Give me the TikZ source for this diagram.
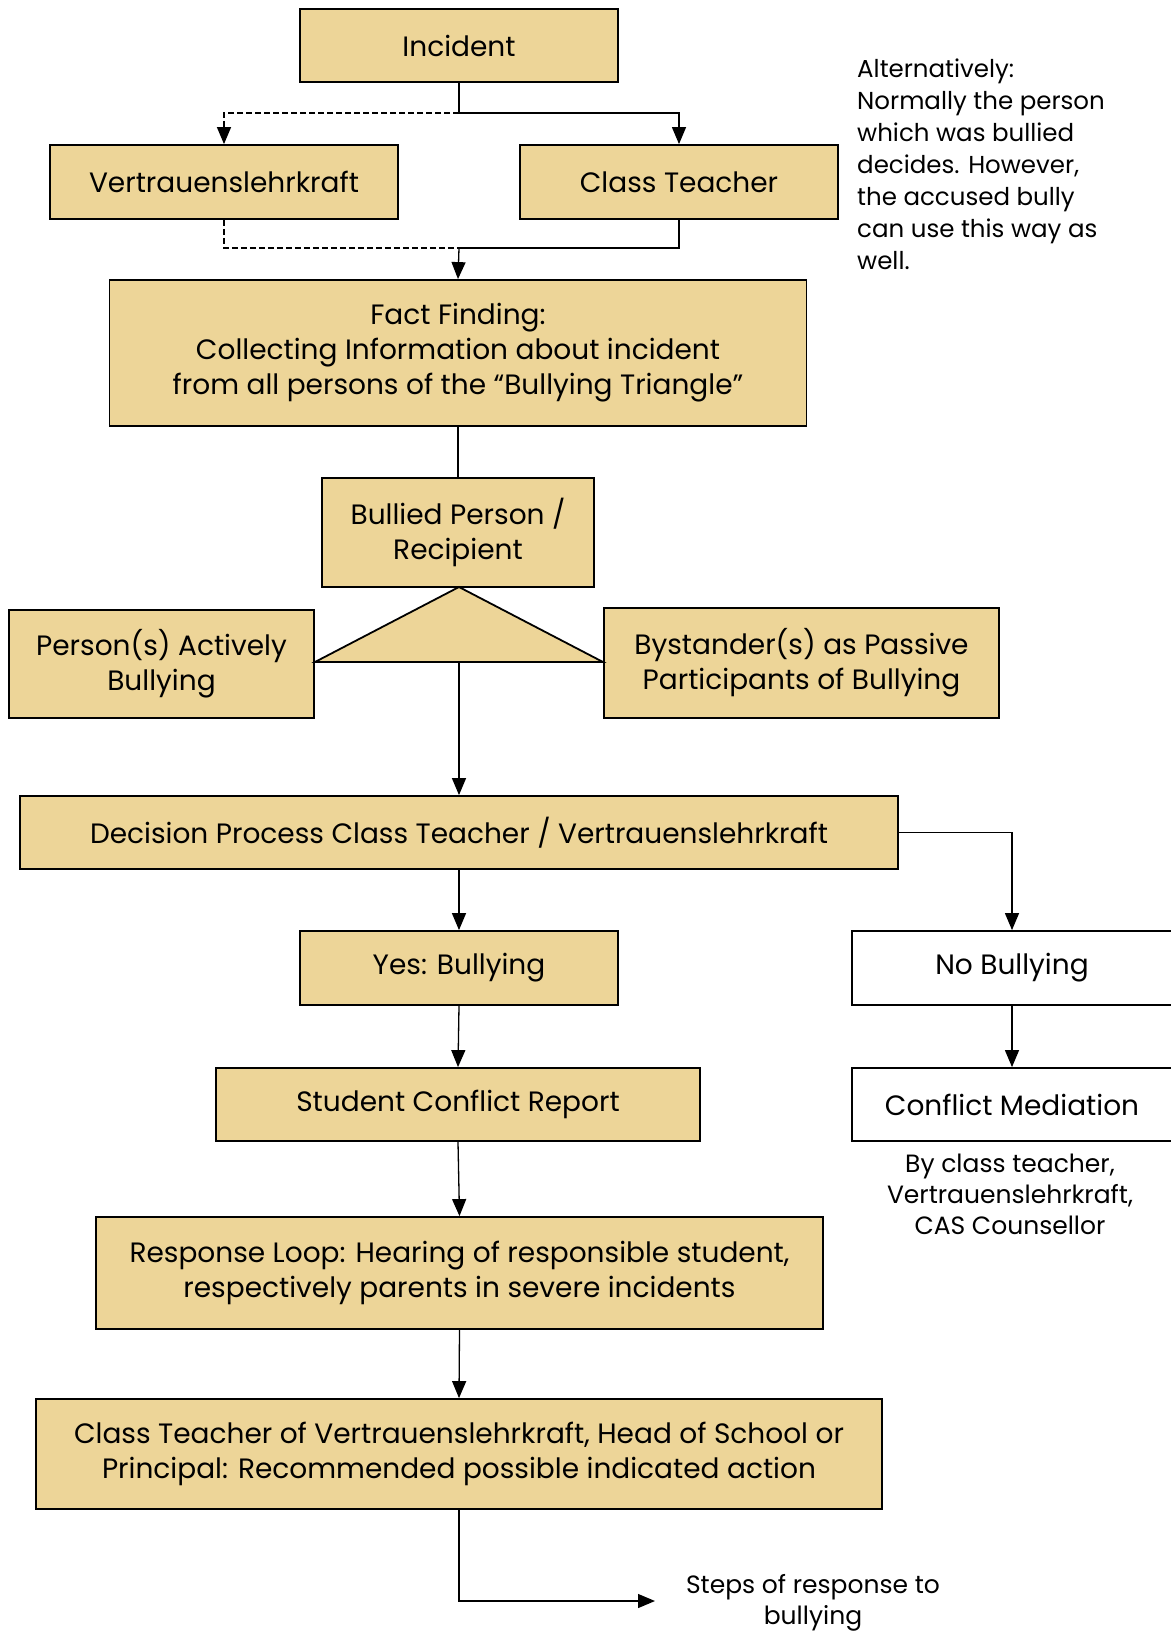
\documentclass[tikz,border=0pt]{standalone}
\usepackage{fontspec}
\setmainfont{Poppins}
\usetikzlibrary{arrows.meta}
\definecolor{boxfill}{RGB}{237,213,152}
\tikzset{
  fbox/.style={draw=black, line width=1.8pt, fill=boxfill, rectangle, inner sep=0pt, align=center,
    font=\fontsize{28}{35}\selectfont},
  wbox/.style={fbox, fill=white},
  conn/.style={line width=1.3pt},
  arr/.style={conn, -{Triangle[width=14pt,length=17pt]}},
  dconn/.style={conn, dash pattern=on 6pt off 3pt},
  note/.style={align=left, inner sep=0pt, font=\fontsize{24.5}{32}\selectfont},
  cnote/.style={align=center, inner sep=0pt, font=\fontsize{25}{31}\selectfont}
}
\begin{document}
\begin{tikzpicture}[x=1pt,y=-1pt]
\useasboundingbox (0,0) rectangle (1170,1635);
\node[fbox, minimum width=318pt, minimum height=73pt] (inc) at (459,45.5) {Incident};
\node[fbox, minimum width=348pt, minimum height=74pt] (vl) at (224,182) {Vertrauenslehrkraft};
\node[fbox, minimum width=318pt, minimum height=74pt] (ct) at (679,182) {Class Teacher};
\node[fbox, minimum width=697pt, minimum height=146pt] (ff) at (458,353) {Fact Finding:\\Collecting Information about incident\\from all persons of the “Bullying Triangle”};
\node[fbox, minimum width=272pt, minimum height=109pt] (bp) at (458,532.5) {Bullied Person /\\Recipient};
\node[fbox, minimum width=305pt, minimum height=108pt] (pab) at (161.5,664) {Person(s) Actively\\Bullying};
\node[fbox, minimum width=395pt, minimum height=110pt] (by) at (801.5,663) {Bystander(s) as Passive\\Participants of Bullying};
\draw[line width=1.8pt, fill=boxfill, line join=miter] (459,587) coordinate (tapex) -- (315,662) -- (603,662) -- cycle;
\coordinate (tb) at (459,662);
\node[fbox, minimum width=878pt, minimum height=73pt] (dp) at (459,832.5) {Decision Process Class Teacher / Vertrauenslehrkraft};
\node[fbox, minimum width=318pt, minimum height=74pt] (yes) at (459,968) {Yes: Bullying};
\node[wbox, minimum width=320pt, minimum height=74pt] (nob) at (1012,968) {No Bullying};
\node[fbox, minimum width=484pt, minimum height=73pt] (scr) at (458,1104.5) {Student Conflict Report};
\node[wbox, minimum width=320pt, minimum height=73pt] (cm) at (1012,1104.5) {Conflict Mediation};
\node[fbox, minimum width=727pt, minimum height=112pt] (rl) at (459.5,1273) {Response Loop: Hearing of responsible student,\\respectively parents in severe incidents};
\node[fbox, minimum width=846pt, minimum height=110pt] (fin) at (459,1454) {Class Teacher of Vertrauenslehrkraft, Head of School or\\Principal: Recommended possible indicated action};
\node[note, anchor=north west] (alt) at (857,59) {Alternatively:\\Normally the person\\which was bullied\\decides. However,\\the accused bully\\can use this way as\\well.};
\node[cnote, anchor=north] (by2) at (1010,1154) {By class teacher,\\Vertrauenslehrkraft,\\CAS Counsellor};
\node[cnote, anchor=north] (steps) at (813,1574) {Steps of response to\\bullying};
% connectors
\coordinate (j1) at (459,113);
\coordinate (j2) at (459,248);
\draw[conn] (inc.south) -- (j1);
\draw[arr] (j1) -| (ct.north);
\draw[dconn, -{Triangle[width=14pt,length=17pt]}] (j1) -| (vl.north);
\draw[dconn] (vl.south) |- (j2);
\draw[conn] (ct.south) |- (j2);
\draw[arr] (j2) -- (ff.north);
\draw[conn] (ff.south) -- (bp.north);
\draw[arr] (tb) -- (dp.north);
\draw[arr] (dp.east) -| (nob.north);
\draw[arr] (dp.south) -- (yes.north);
\draw[arr] (yes.south) -- (scr.north);
\draw[arr] (scr.south) -- (rl.north);
\draw[arr] (nob.south) -- (cm.north);
\draw[arr] (rl.south) -- (fin.north);
\coordinate (se) at (655,1601);
\draw[arr] (fin.south) |- (se);
\end{tikzpicture}
\end{document}
